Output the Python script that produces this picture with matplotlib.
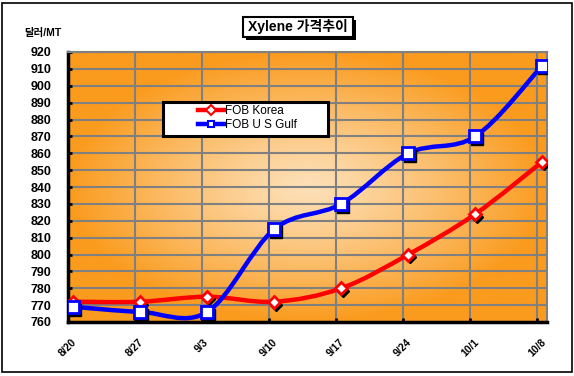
import numpy as np
import matplotlib
matplotlib.use('Agg')
import matplotlib.pyplot as plt
from matplotlib.path import Path
import matplotlib.patches as patches
import matplotlib.transforms as mtransforms

plt.rcParams['font.family'] = ['Liberation Sans', 'Noto Sans CJK KR', 'DejaVu Sans']

dates = ['8/20', '8/27', '9/3', '9/10', '9/17', '9/24', '10/1', '10/8']
fob_korea = [772, 772, 775, 772, 780, 800, 824, 855]
fob_usgulf = [769, 766, 766, 815, 830, 860, 870, 912]
yticks = list(range(760, 921, 10))

EDGE = np.array([250, 155, 30]) / 255.0
CENTER = np.array([253, 224, 184]) / 255.0


def smooth_path(x, y):
	""" Excel-like smoothed line as cubic bezier path """
	x = np.asarray(x, float)
	y = np.asarray(y, float)
	n = len(x)
	verts = [(x[0], y[0])]
	codes = [Path.MOVETO]
	for i in range(n - 1):
		x0, y0 = (x[i - 1], y[i - 1]) if i > 0 else (x[i], y[i])
		x3, y3 = (x[i + 2], y[i + 2]) if i + 2 < n else (x[i + 1], y[i + 1])
		c1 = (x[i] + (x[i + 1] - x0) / 6.0, y[i] + (y[i + 1] - y0) / 6.0)
		c2 = (x[i + 1] - (x3 - x[i]) / 6.0, y[i + 1] - (y3 - y[i]) / 6.0)
		verts += [c1, c2, (x[i + 1], y[i + 1])]
		codes += [Path.CURVE4] * 3
	return Path(verts, codes)


def fig_rect(x0, y0, x1, y1, **kw):
	""" rectangle given in pixel coords (origin top-left) """
	fig.patches.append(patches.Rectangle((x0 / 574, 1 - y1 / 376), (x1 - x0) / 574,
		(y1 - y0) / 376, transform=fig.transFigure, **kw))


fig = plt.figure(figsize=(5.74, 3.76), dpi=100)
fig_rect(2, 3, 572, 372, fill=False, edgecolor='black', lw=1.2)

ax = fig.add_axes([68 / 574, 1 - 322 / 376, 479 / 574, 270 / 376])
xmax = 7.15
ax.set_xlim(0, xmax)
ax.set_ylim(760, 920)

#radial background gradient
gx, gy = np.meshgrid(np.linspace(-1, 1, 300), np.linspace(-1, 1, 200))
r = np.clip(np.sqrt(gx ** 2 + gy ** 2), 0, 1) ** 1.2
img = CENTER[None, None, :] * (1 - r[..., None]) + EDGE[None, None, :] * r[..., None]
ax.imshow(img, extent=[0, xmax, 760, 920], aspect='auto', zorder=0, interpolation='bilinear')

ax.set_yticks(yticks)
ax.set_xticks(range(len(dates)))
ax.set_xticklabels(dates, rotation=45, fontsize=7.5, fontweight='bold')
ax.tick_params(axis='x', direction='in', length=3, width=2, pad=11)
ax.tick_params(axis='y', direction='in', length=3, width=2, pad=12, labelsize=9)
for lbl in ax.get_yticklabels():
	lbl.set_fontweight('bold')
ax.grid(True, color='#808080', lw=1.5, zorder=1)
for s in ['top', 'right']:
	ax.spines[s].set_color('#808080')
	ax.spines[s].set_linewidth(1.5)
for s in ['left', 'bottom']:
	ax.spines[s].set_linewidth(2.5)

xs = np.arange(len(dates)) + 0.08
shadow = mtransforms.offset_copy(ax.transData, fig=fig, x=1.5, y=-2, units='points')

for vals, col, mk, ms, lab in [(fob_korea, '#ff0000', 'D', 6.5, 'FOB Korea'),
								(fob_usgulf, '#0000ff', 's', 8, 'FOB U S Gulf')]:
	ax.add_patch(patches.PathPatch(smooth_path(xs, vals), fill=False, edgecolor=col,
		lw=3.2, zorder=3, capstyle='round'))
	ax.plot(xs, vals, ls='none', marker=mk, ms=ms, mfc='black', mec='black',
		transform=shadow, zorder=4)
	ax.plot(xs, vals, ls='none', marker=mk, ms=ms, mfc='white', mec=col, mew=2, zorder=5)
	ax.plot([], [], color=col, lw=3.2, marker=mk, ms=5, mfc='white', mec=col, mew=1.5, label=lab)

#legend box drawn by hand, legend itself frameless
fig_rect(163, 102, 328, 136, facecolor='white', edgecolor='black', lw=2.2, zorder=5)
leg = fig.legend(loc='upper left', bbox_to_anchor=(195 / 574, 1 - 102 / 376),
	frameon=False, fontsize=8.5, handlelength=2.2, handletextpad=0.05,
	borderpad=0.25, labelspacing=0.2, borderaxespad=0)
leg.set_zorder(10)

#title with shadowed box
fig_rect(246, 20, 356, 40, facecolor='black', edgecolor='black', lw=0, zorder=5)
fig_rect(243, 17, 353, 37, facecolor='white', edgecolor='black', lw=1.5, zorder=6)
fig.text(298 / 574, 1 - 27 / 376, 'Xylene 가격추이', fontsize=10, fontweight='bold',
	ha='center', va='center', zorder=7)
fig.text(24 / 574, 1 - 33 / 376, '달러/MT', fontsize=7.5, fontweight='bold', ha='left', va='center')

fig.savefig('out.png', dpi=100)
